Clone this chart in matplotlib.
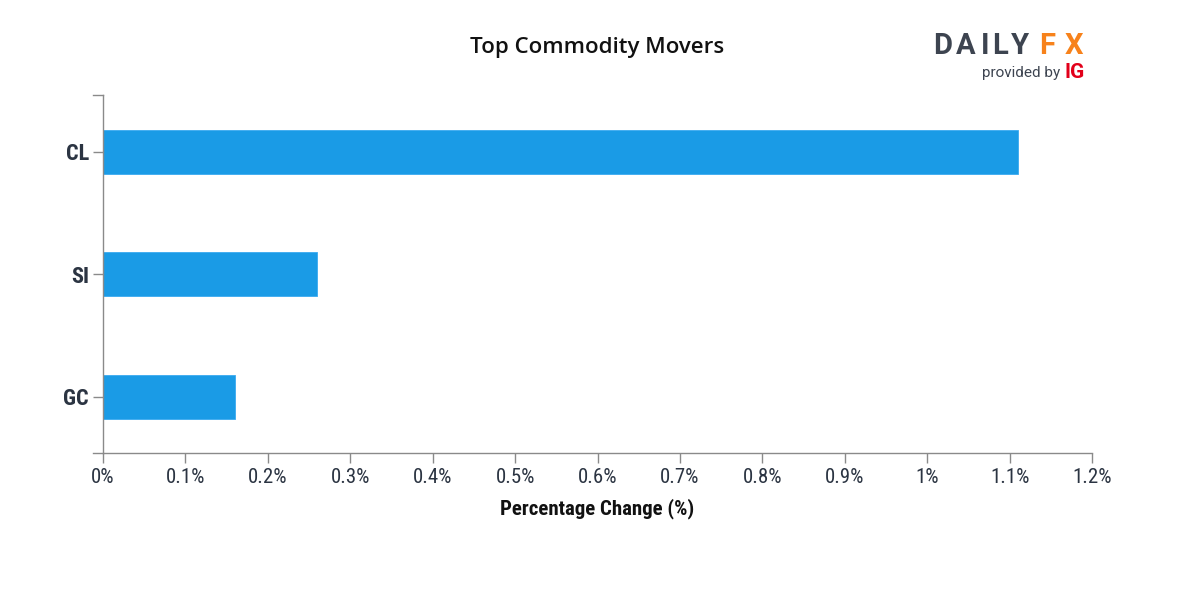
import matplotlib
matplotlib.use("Agg")
import matplotlib.pyplot as plt
from matplotlib.ticker import FuncFormatter, MultipleLocator
from matplotlib.lines import Line2D

categories = ["CL", "SI", "GC"]
values = [1.11, 0.26, 0.16]
title = "Top Commodity Movers"
xlabel = "Percentage Change (%)"

BAR = "#1a9be6"
TXT = "#2b3442"
AX = "#8a8a8a"
COND = ["Roboto Condensed", "Liberation Sans Narrow", "Roboto", "DejaVu Sans"]

fig = plt.figure(figsize=(12, 6), dpi=100)
ax = fig.add_axes([103/1200, 1 - 453/600, (1092-103)/1200, (453-95)/600])

ypos = list(range(len(categories)))
ax.barh(ypos, values, height=0.36, color=BAR, edgecolor="#3aaaf0", linewidth=0.6, zorder=2)

ax.set_xlim(0, 1.2)
ax.set_ylim(2.46, -0.465)
ax.set_yticks(ypos)
ax.set_yticklabels(categories, family=COND, fontweight="bold", fontsize=16, color=TXT)
ax.xaxis.set_major_locator(MultipleLocator(0.1))
ax.xaxis.set_major_formatter(FuncFormatter(lambda v, p: f"{v:.1f}".rstrip("0").rstrip(".") + "%"))
ax.tick_params(axis="x", labelsize=15, labelcolor=TXT, color=AX, length=7, width=1, pad=4)
ax.tick_params(axis="y", color=AX, length=7, width=1, pad=3)
for lab in ax.get_xticklabels():
    lab.set_family(COND)

for s in ["top", "right"]:
    ax.spines[s].set_visible(False)
for s in ["left", "bottom"]:
    ax.spines[s].set_color(AX)
    ax.spines[s].set_linewidth(1)

# axis end ticks (Vega-like domain extents)
ax.add_line(Line2D([-0.01, 0], [1, 1], transform=ax.transAxes, color=AX, lw=1, clip_on=False))
ax.add_line(Line2D([-0.01, 0], [0, 0], transform=ax.transAxes, color=AX, lw=1, clip_on=False))

ax.set_xlabel(xlabel, family=COND, fontweight="bold", fontsize=15, color="#111111", labelpad=8)

fig.text(597/1200, 1 - 47/600, title, ha="center", va="center", fontsize=16,
         family=["Open Sans", "DejaVu Sans"], fontweight="semibold", color="#111111")

# logo
logo_letters = ["D", "A", "I", "L", "Y", "F", "X"]
logo_x = [943, 966, 985, 1000, 1020, 1047, 1074]
logo_c = ["#3d4450"] * 5 + ["#f7821b"] * 2
for ch, x, c in zip(logo_letters, logo_x, logo_c):
    fig.text(x/1200, 1 - 46/600, ch, ha="center", va="center", fontsize=21,
             family=["Roboto", "DejaVu Sans"], fontweight="bold", color=c)
fig.text(1060/1200, 1 - 73/600, "provided by", ha="right", va="center", fontsize=11,
         family=["Roboto", "DejaVu Sans"], color="#3d4450")
fig.text(1065/1200, 1 - 73/600, "IG", ha="left", va="center", fontsize=15,
         family=["Roboto", "DejaVu Sans"], fontweight="bold", color="#e2001a")

fig.savefig("out.png", dpi=100, facecolor="white")
